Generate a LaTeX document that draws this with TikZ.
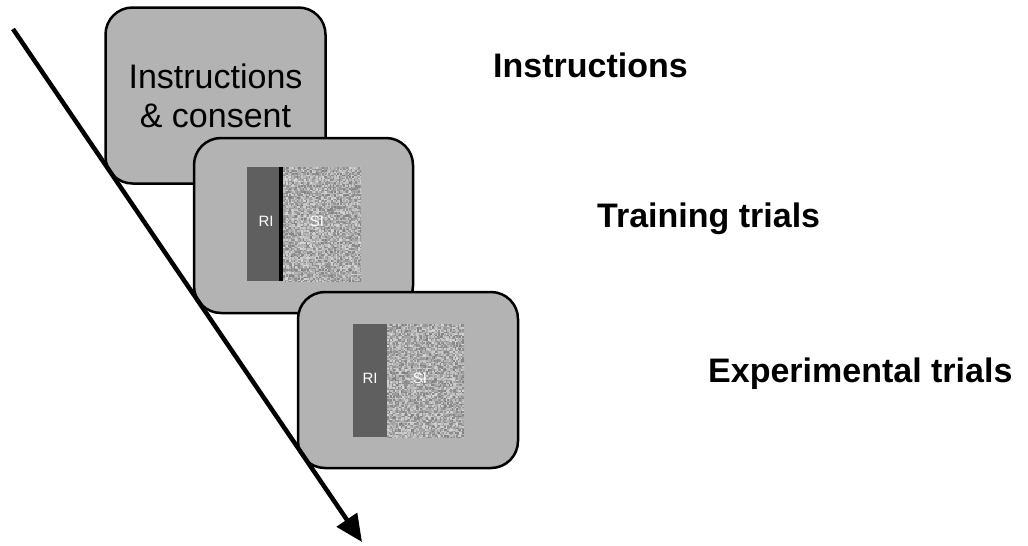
\documentclass[tikz,border=0pt]{standalone}
\usepackage{fontspec}
\setmainfont{Liberation Sans}
\usetikzlibrary{arrows.meta}
\definecolor{boxgray}{HTML}{B3B3B3}
\definecolor{rigray}{HTML}{5F5F5F}
\definecolor{noisegray}{HTML}{A6A6A6}
\newcommand\noisefill[4]{%
  \begin{scope}
    \clip (#1,#2) rectangle (#3,#4);
    \fill[noisegray] (#1,#2) rectangle (#3,#4);
    \pgfmathtruncatemacro\nx{(#3-#1)/1.5}%
    \pgfmathtruncatemacro\ny{(#4-#2)/1.5}%
    \foreach \i in {0,...,\nx}{%
      \foreach \j in {0,...,\ny}{%
        \pgfmathsetmacro\g{50+34*rnd}%
        \fill[white!\g!black] ({#1+1.5*\i},{#2+1.5*\j}) rectangle ++(1.5,1.5);%
      }%
    }%
  \end{scope}%
}
\tikzset{
  screen/.style={draw=black, line width=2.5pt, fill=boxgray, rounded corners=27pt,
    inner sep=0pt, align=center},
  phase/.style={anchor=base west, inner sep=0pt, font=\bfseries\fontsize{34}{40}\selectfont},
  imglabel/.style={text=white, inner sep=0pt, font=\fontsize{15}{17}\selectfont},
  timeline/.style={line width=4.5pt, -{Triangle[length=27pt,width=24pt]}}
}
\begin{document}
\begin{tikzpicture}[x=1pt,y=-1pt]
\useasboundingbox (0,0) rectangle (1028,546);
\pgfmathsetseed{42}
% box 1
\node[screen, minimum width=220pt, minimum height=176pt,
  font=\fontsize{34}{39}\selectfont] (box1) at (215.5,95.5) {Instructions\\\& consent};
% box 2
\node[screen, minimum width=219pt, minimum height=175pt] (box2) at (303.5,225.5) {};
\fill[rigray] (247,167) rectangle (279,281);
\noisefill{283}{167}{361}{281}
\fill[black] (279,167) rectangle (283,281);
\node[imglabel] (ri2) at (266,221) {RI};
\node[imglabel] (si2) at (317,221) {SI};
% box 3
\node[screen, minimum width=220pt, minimum height=176pt] (box3) at (408,380) {};
\fill[rigray] (353,324) rectangle (387,437);
\noisefill{387}{324}{464}{437}
\node[imglabel] (ri3) at (370,378) {RI};
\node[imglabel] (si3) at (420,378) {SI};
% labels
\node[phase] (l1) at (493,77) {Instructions};
\node[phase] (l2) at (597,227) {Training trials};
\node[phase] (l3) at (708,382) {Experimental trials};
% timeline arrow
\coordinate (tstart) at (13,29);
\coordinate (tend) at (362,542);
\draw[timeline] (tstart) -- (tend);
\end{tikzpicture}
\end{document}
